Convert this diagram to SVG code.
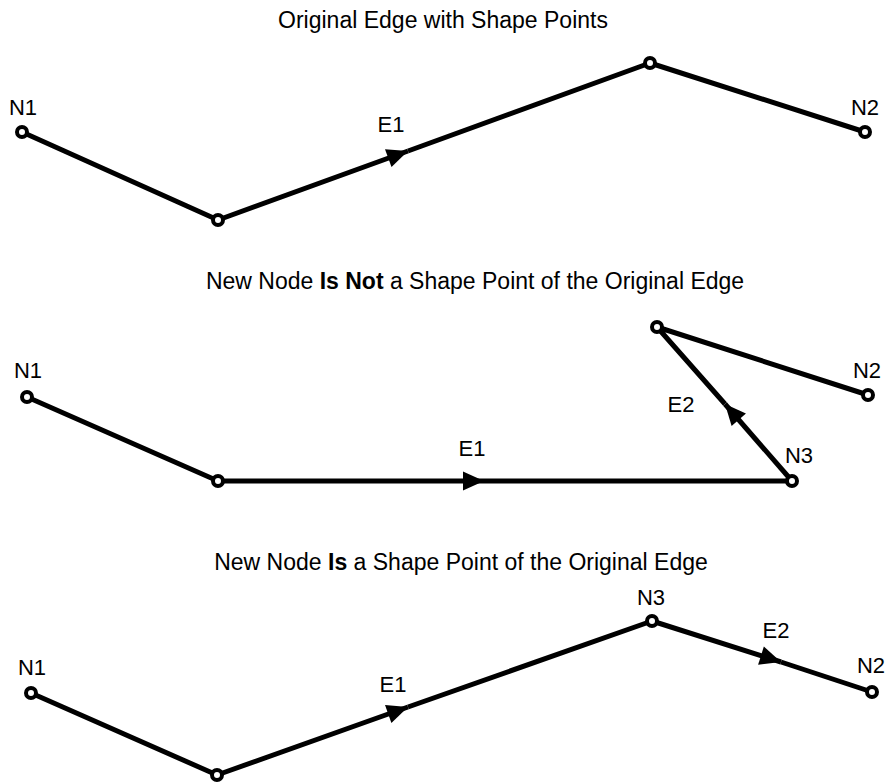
<svg xmlns="http://www.w3.org/2000/svg" width="886" height="784" viewBox="0 0 886 784">
<style>
text{font-family:"Liberation Sans",Arial,sans-serif;font-size:22px;fill:#000;text-anchor:middle}
.t{font-size:23px}
.b{font-weight:bold}
.e{fill:none;stroke:#000;stroke-width:5;stroke-linejoin:round}
.n{fill:#fff;stroke:#000;stroke-width:4}
</style>
<defs>
<marker id="ah" markerUnits="userSpaceOnUse" markerWidth="24" markerHeight="20" refX="21" refY="9.5" orient="auto" overflow="visible">
<path d="M0,0 L21,9.5 L0,19 Z" fill="#000"/>
</marker>
</defs>
<rect width="886" height="784" fill="#fff"/>
<g id="titles">
<text class="t" x="443" y="28">Original Edge with Shape Points</text>
<text class="t" x="475" y="289">New Node <tspan class="b">Is Not</tspan> a Shape Point of the Original Edge</text>
<text class="t" x="461" y="570">New Node <tspan class="b">Is</tspan> a Shape Point of the Original Edge</text>
</g>
<g id="connectors">
<path class="e" d="M22,132 L218,220 L408,151" marker-end="url(#ah)"/>
<path class="e" d="M408,151 L650,63 L865,132"/>
<path class="e" d="M27,397 L218,481 L484,481" marker-end="url(#ah)"/>
<path class="e" d="M484,481 L792,481"/>
<path class="e" d="M792,481 L725,404" marker-end="url(#ah)"/>
<path class="e" d="M725,404 L657,327 L868,395"/>
<path class="e" d="M31,693 L217,775 L408,707" marker-end="url(#ah)"/>
<path class="e" d="M408,707 L652,621 L781,662" marker-end="url(#ah)"/>
<path class="e" d="M781,662 L872,692"/>
</g>
<g id="edge-labels">
<text x="391" y="132">E1</text>
<text x="472" y="456">E1</text>
<text x="681" y="412">E2</text>
<text x="393" y="692">E1</text>
<text x="776" y="638">E2</text>
</g>
<g id="p1-n1"><circle class="n" cx="22" cy="132" r="5"/><text x="23" y="115">N1</text></g>
<g id="p1-s1"><circle class="n" cx="218" cy="220" r="5"/></g>
<g id="p1-s2"><circle class="n" cx="650" cy="63" r="5"/></g>
<g id="p1-n2"><circle class="n" cx="865" cy="132" r="5"/><text x="865" y="115">N2</text></g>
<g id="p2-n1"><circle class="n" cx="27" cy="397" r="5"/><text x="28" y="378">N1</text></g>
<g id="p2-s1"><circle class="n" cx="218" cy="481" r="5"/></g>
<g id="p2-n3"><circle class="n" cx="792" cy="481" r="5"/><text x="799" y="463">N3</text></g>
<g id="p2-s2"><circle class="n" cx="657" cy="327" r="5"/></g>
<g id="p2-n2"><circle class="n" cx="868" cy="395" r="5"/><text x="867" y="378">N2</text></g>
<g id="p3-n1"><circle class="n" cx="31" cy="693" r="5"/><text x="32" y="675">N1</text></g>
<g id="p3-s1"><circle class="n" cx="217" cy="775" r="5"/></g>
<g id="p3-n3"><circle class="n" cx="652" cy="621" r="5"/><text x="651" y="605">N3</text></g>
<g id="p3-n2"><circle class="n" cx="872" cy="692" r="5"/><text x="871" y="673">N2</text></g>
</svg>
